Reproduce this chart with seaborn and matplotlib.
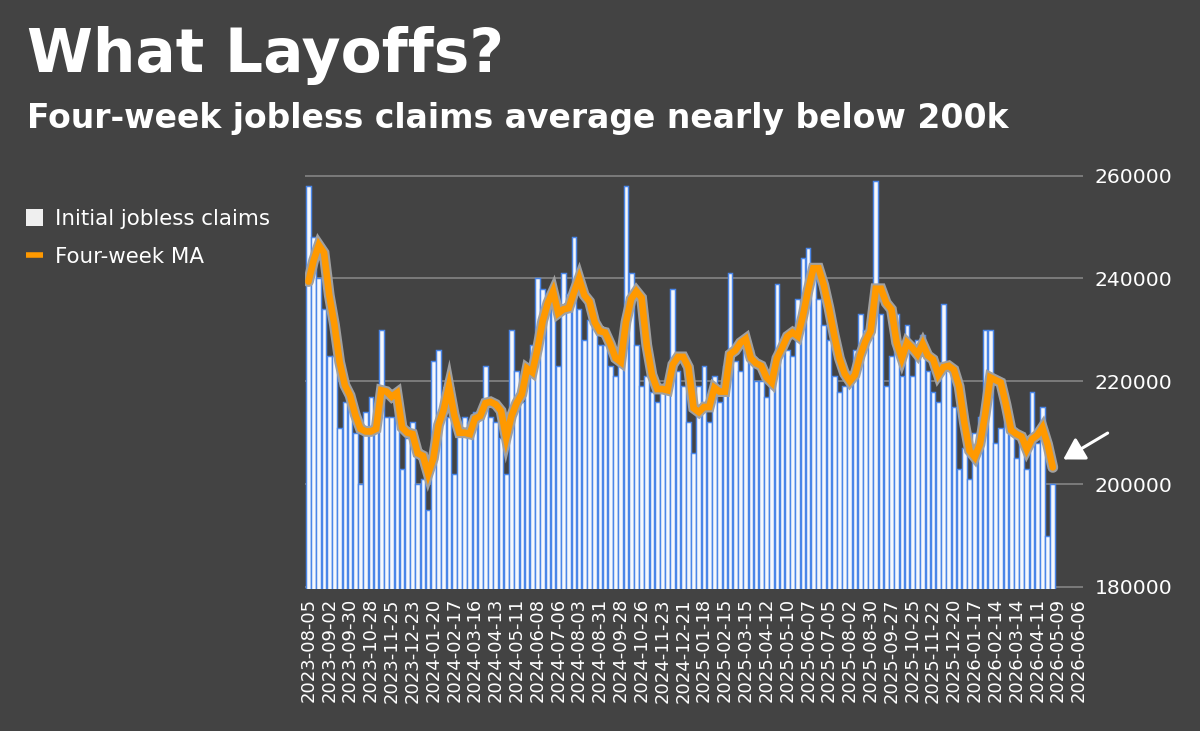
import numpy as np
import pandas as pd
import matplotlib
matplotlib.use("Agg")
import matplotlib.pyplot as plt
import matplotlib.patheffects as pe
from matplotlib.patches import Patch
from matplotlib.lines import Line2D
import seaborn as sns

# ---------------- data ----------------
claims = [
    258000, 248000, 240000, 234000, 225000, 225000, 211000, 216000, 217000, 210000,
    200000, 214000, 217000, 212000, 230000, 213000, 213000, 215000, 203000, 209000,
    212000, 200000, 201000, 195000, 224000, 226000, 213000, 213000, 202000, 212000,
    213000, 212000, 214000, 214000, 223000, 213000, 212000, 209000, 202000, 230000,
    222000, 216000, 222000, 227000, 240000, 238000, 236000, 236000, 223000, 241000,
    237000, 248000, 234000, 228000, 232000, 232000, 227000, 227000, 223000, 221000,
    224000, 258000, 241000, 227000, 219000, 221000, 218000, 216000, 219000, 220000,
    238000, 222000, 219000, 212000, 206000, 219000, 223000, 212000, 221000, 216000,
    223000, 241000, 224000, 222000, 226000, 226000, 220000, 220000, 217000, 222000,
    239000, 228000, 226000, 225000, 236000, 244000, 246000, 242000, 236000, 231000,
    228000, 221000, 218000, 219000, 222000, 226000, 233000, 230000, 230000, 259000,
    233000, 219000, 225000, 233000, 221000, 231000, 221000, 228000, 229000, 222000,
    218000, 216000, 235000, 223000, 215000, 203000, 207000, 201000, 210000, 213000,
    230000, 230000, 208000, 211000, 213000, 210000, 205000, 209000, 203000, 218000,
    208000, 215000, 190000, 200000,
]

four_week_ma = [
    239400, 243500, 246500, 245000, 236750, 231000, 223750, 219250, 217250, 213500,
    210750, 210250, 210250, 210750, 218250, 218000, 217000, 217750, 211000, 210000,
    209750, 206000, 205500, 202000, 205000, 211500, 214500, 219000, 213500, 210000,
    210000, 209750, 212750, 213250, 215750, 216000, 215500, 214250, 209000, 213250,
    215750, 217500, 222500, 221750, 226250, 231750, 235250, 237500, 233250, 234000,
    234250, 237250, 240000, 236750, 235500, 231500, 229750, 229500, 227250, 224500,
    223750, 231500, 236000, 237500, 236250, 227000, 221250, 218500, 218500, 218250,
    223250, 224750, 224750, 222750, 214750, 214000, 215000, 215000, 218750, 218000,
    218000, 225250, 226000, 227500, 228250, 224500, 223500, 223000, 220750, 219750,
    224500, 226500, 228750, 229500, 228750, 232750, 237750, 242000, 242000, 238750,
    234250, 229000, 224500, 221500, 220000, 221250, 225000, 227750, 229750, 238000,
    238000, 235250, 234000, 227500, 224500, 227500, 226500, 225250, 227250, 225000,
    224250, 221250, 222750, 223000, 222250, 219000, 212000, 206500, 205250, 207750,
    213500, 220750, 220250, 219750, 215500, 210500, 209750, 209250, 206750, 208750,
    209500, 211000, 207750, 203250,
]

tick_labels = [
    "2023-08-05", "2023-09-02", "2023-09-30", "2023-10-28", "2023-11-25", "2023-12-23",
    "2024-01-20", "2024-02-17", "2024-03-16", "2024-04-13", "2024-05-11", "2024-06-08",
    "2024-07-06", "2024-08-03", "2024-08-31", "2024-09-28", "2024-10-26", "2024-11-23",
    "2024-12-21", "2025-01-18", "2025-02-15", "2025-03-15", "2025-04-12", "2025-05-10",
    "2025-06-07", "2025-07-05", "2025-08-02", "2025-08-30", "2025-09-27", "2025-10-25",
    "2025-11-22", "2025-12-20", "2026-01-17", "2026-02-14", "2026-03-14", "2026-04-11",
    "2026-05-09", "2026-06-06",
]
y_ticks = [180000, 200000, 220000, 240000, 260000]

title = "What Layoffs?"
subtitle = "Four-week jobless claims average nearly below 200k"
legend_labels = ["Initial jobless claims", "Four-week MA"]

# ---------------- style ----------------
BG = "#434343"
ORANGE = "#ff9900"
BAR_FILL = "#f6f8fc"
BAR_EDGE = "#4a86e8"
GRID = "#8a8a8a"

sns.set_theme(style="dark")
plt.rcParams["font.family"] = ["DejaVu Sans"]

W, H = 1200, 731
fig = plt.figure(figsize=(W / 100, H / 100), dpi=100, facecolor=BG)
ax = fig.add_axes([305.3 / W, 1 - 589 / H, 777.7 / W, 415.4 / H])
ax.set_facecolor(BG)

df = pd.DataFrame({
    "week": np.arange(len(claims)),
    "claims": claims,
    "ma": four_week_ma,
})

sns.barplot(data=df, x="week", y="claims", native_scale=True, width=0.9,
            color=BAR_FILL, saturation=1, edgecolor=BAR_EDGE, linewidth=1.05,
            errorbar=None, ax=ax, zorder=2)

sns.lineplot(data=df, x="week", y="ma", color=ORANGE, linewidth=4.8, ax=ax,
             legend=False, zorder=3, solid_joinstyle="miter",
             path_effects=[pe.Stroke(linewidth=7.8, foreground="#a0a0a0"), pe.Normal()])

ax.set_xlim(-0.6, 148.8)
ax.set_ylim(179600, 260400)

ax.set_xticks(np.arange(0, 4 * len(tick_labels), 4))
ax.set_xticklabels(tick_labels, rotation=90, color="white", fontsize=13)
ax.yaxis.tick_right()
ax.set_yticks(y_ticks)
ax.set_yticklabels([str(v) for v in y_ticks], color="white", fontsize=14.7)
ax.tick_params(axis="x", length=0, pad=6.5)
ax.tick_params(axis="y", length=0, pad=8.6)
ax.set_xlabel("")
ax.set_ylabel("")
ax.grid(axis="y", color=GRID, linewidth=1.1)
ax.grid(axis="x", visible=False)
ax.set_axisbelow(True)
for s in ax.spines.values():
    s.set_visible(False)

# arrow pointing at the last moving-average value
ax.annotate("", xy=(145.0, 204800), xytext=(32, 19), textcoords="offset points",
            arrowprops=dict(arrowstyle="-|>,head_length=0.7,head_width=0.42",
                            color="white", lw=2.2, mutation_scale=18,
                            shrinkA=0, shrinkB=0),
            annotation_clip=False)

# titles
fig.text(27 / W, 1 - 72 / H, title, fontsize=43, fontweight="bold",
         color="white", va="baseline", ha="left")
fig.text(27 / W, 1 - 128 / H, subtitle, fontsize=23.8, fontweight="bold",
         color="white", va="baseline", ha="left")

# legend
handles = [Patch(facecolor="#efefef", edgecolor="none"),
           Line2D([0], [0], color=ORANGE, lw=4, solid_capstyle="butt")]
fig.legend(handles, legend_labels, loc="upper left",
           bbox_to_anchor=(26 / W, 1 - 209 / H), frameon=False, fontsize=15.4,
           labelcolor="white", handlelength=0.8, handleheight=0.8,
           handletextpad=0.55, labelspacing=0.82, borderpad=0, borderaxespad=0)

fig.savefig("out.png", dpi=100, facecolor=BG)
